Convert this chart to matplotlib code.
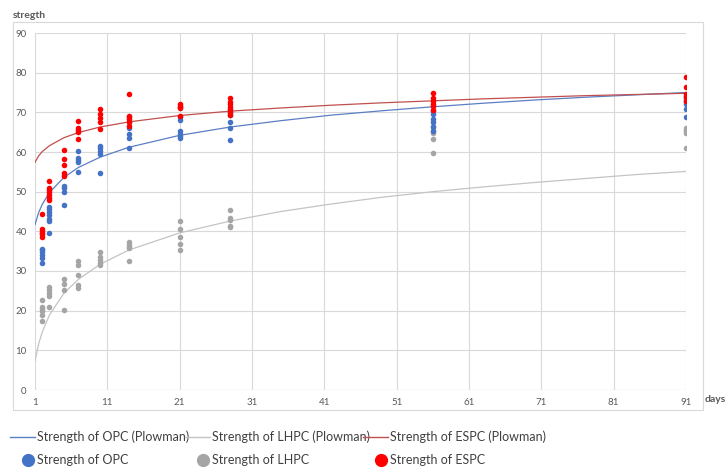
import matplotlib
matplotlib.use("Agg")
from matplotlib import pyplot as plt
from matplotlib.lines import Line2D
from matplotlib.patches import Rectangle

plt.rcParams["font.family"] = ["Lato", "DejaVu Sans"]

# test ages (days) of the measured specimens
test_days = [2, 3, 5, 7, 10, 14, 21, 28, 56, 91]

opc = [
    [35.6, 35.2, 34.7, 34.0, 33.3, 31.9],
    [46.2, 45.6, 45.0, 44.0, 43.2, 42.6, 39.7],
    [54.2, 51.4, 50.8, 49.8, 46.6],
    [60.3, 58.4, 57.9, 57.6, 54.9],
    [61.6, 60.9, 60.3, 59.6, 54.8],
    [67.6, 66.0, 64.5, 63.6, 60.9],
    [68.8, 68.1, 65.3, 64.5, 64.0, 63.6],
    [70.4, 69.8, 69.3, 67.6, 66.0, 63.0],
    [71.5, 70.3, 69.5, 68.4, 67.5, 66.3, 65.4],
    [74.2, 73.6, 73.2, 72.6, 72.0, 70.8, 68.9],
]
lhpc = [
    [22.6, 21.0, 20.4, 19.9, 18.9, 17.5],
    [26.0, 25.2, 24.5, 23.8, 21.0],
    [28.0, 26.6, 25.3, 20.2],
    [32.6, 31.6, 28.9, 26.5, 25.6],
    [34.7, 33.5, 32.8, 32.1, 31.5],
    [37.4, 36.6, 36.0, 35.7, 32.5],
    [42.6, 40.7, 38.6, 36.9, 35.2],
    [45.5, 43.3, 42.8, 41.4, 41.0],
    [66.6, 65.4, 64.8, 63.4, 59.8],
    [66.0, 65.6, 65.2, 64.8, 61.0],
]
espc = [
    [44.3, 40.5, 40.1, 39.7, 39.3, 38.5],
    [52.6, 51.0, 50.4, 49.8, 49.2, 48.5, 47.8],
    [60.4, 58.2, 56.7, 54.6, 54.0],
    [67.8, 66.0, 65.5, 65.0, 63.4],
    [70.8, 69.7, 68.5, 67.6, 65.8],
    [74.5, 69.2, 68.7, 68.2, 67.5, 66.6],
    [72.2, 71.7, 71.3, 71.0, 69.2],
    [73.5, 72.6, 72.0, 71.4, 70.8, 70.2, 69.4],
    [74.8, 73.5, 72.8, 72.2, 71.5, 70.6],
    [78.8, 76.3, 74.5, 73.8, 72.8],
]

# Plowman curves
curve_days = [1, 1.5, 2, 3, 5, 7, 10, 14, 21, 28, 35, 42, 49, 56, 63, 70, 77, 84, 91]
opc_curve = [41.7, 44.7, 46.8, 49.8, 53.6, 56.1, 58.7, 61.2, 64.2, 66.3, 67.9, 69.3,
             70.4, 71.4, 72.3, 73.1, 73.8, 74.4, 75.0]
lhpc_curve = [7.3, 11.6, 14.6, 18.9, 24.4, 27.9, 31.7, 35.3, 39.6, 42.6, 45.0, 46.9,
              48.6, 50.0, 51.2, 52.3, 53.3, 54.3, 55.1]
espc_curve = [57.4, 59.0, 60.1, 61.6, 63.6, 64.9, 66.3, 67.6, 69.2, 70.3, 71.1, 71.8,
              72.4, 72.9, 73.4, 73.8, 74.2, 74.5, 74.8]

x_ticks = list(range(1, 92, 10))
y_ticks = list(range(0, 91, 10))

blue, grey, red = "#4472C4", "#A5A5A5", "#FF0000"
blue_ln, grey_ln, red_ln = "#5B7FC4", "#C4C4C4", "#C0504D"
txt = "#595959"
W, H = 727, 469


def flat(groups):
    xs, ys = [], []
    for d, vals in zip(test_days, groups):
        xs += [d] * len(vals)
        ys += vals
    return xs, ys


fig = plt.figure(figsize=(W / 100, H / 100), dpi=100)
ax = fig.add_axes([35 / W, 1 - 390 / H, 651 / W, 357 / H])

ax.plot(curve_days, opc_curve, color=blue_ln, lw=0.9, zorder=3)
ax.plot(curve_days, lhpc_curve, color=grey_ln, lw=0.9, zorder=3)
ax.plot(curve_days, espc_curve, color=red_ln, lw=0.9, zorder=3)

for groups, c in [(lhpc, grey), (opc, blue), (espc, red)]:
    xs, ys = flat(groups)
    ax.scatter(xs, ys, s=16, color=c, linewidths=0, zorder=4)

ax.set_xlim(1, 91)
ax.set_ylim(0, 90)
ax.set_xticks(x_ticks)
ax.set_yticks(y_ticks)
ax.grid(True, color="#D9D9D9", lw=0.8)
ax.set_axisbelow(True)
for s in ax.spines.values():
    s.set_visible(False)
ax.axhline(0, color="#D9D9D9", lw=0.8)
ax.tick_params(length=0, labelsize=7, labelcolor=txt, pad=6)

# chart-area border
fig.patches.append(Rectangle((13 / W, 1 - 410 / H), 690 / W, 388 / H,
                             transform=fig.transFigure, fill=False,
                             edgecolor="#D9D9D9", lw=0.8))

fig.text(13 / W, 1 - 15 / H, "stregth", fontsize=7.5, fontweight="bold",
         color=txt, va="center", ha="left")
fig.text(726 / W, 1 - 399 / H, "days", fontsize=7.5, fontweight="bold",
         color=txt, va="center", ha="right")


def entry(handle, label, x, y, hl):
    leg = fig.legend([handle], [label], loc="center left",
                     bbox_to_anchor=(x / W, 1 - y / H), frameon=False,
                     prop={"family": ["Liberation Sans Narrow", "Lato"], "size": 9},
                     labelcolor="#404040", handlelength=hl, handletextpad=0.15,
                     borderpad=0, borderaxespad=0)
    return leg


names = ["OPC", "LHPC", "ESPC"]
line_cols = [blue_ln, grey_ln, red_ln]
dot_cols = [blue, grey, red]
col_x = [10, 185, 363]
for n, lc, dc, x in zip(names, line_cols, dot_cols, col_x):
    entry(Line2D([], [], color=lc, lw=1), f"Strength of {n} (Plowman)", x, 437, 2.0)
    entry(Line2D([], [], ls="none", marker="o", ms=8.5, color=dc),
          f"Strength of {n}", x + 10.5, 460, 1.2)

fig.savefig("out.png", dpi=100)
